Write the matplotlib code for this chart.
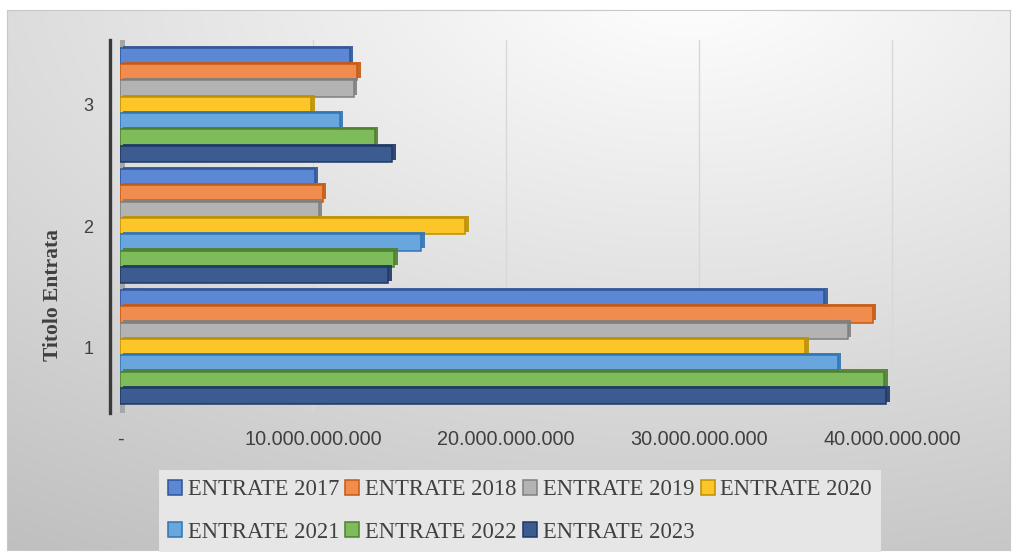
import numpy as np
import matplotlib
matplotlib.use("Agg")
import matplotlib.pyplot as plt
import matplotlib.patheffects as pe
from matplotlib.ticker import FuncFormatter

# ---- data ----
categories = [1, 2, 3]
series_names = ["ENTRATE 2017", "ENTRATE 2018", "ENTRATE 2019", "ENTRATE 2020",
                "ENTRATE 2021", "ENTRATE 2022", "ENTRATE 2023"]
entrate_2017 = [36.5e9, 10.1e9, 11.9e9]
entrate_2018 = [39.0e9, 10.5e9, 12.3e9]
entrate_2019 = [37.7e9, 10.3e9, 12.1e9]
entrate_2020 = [35.5e9, 17.9e9, 9.9e9]
entrate_2021 = [37.2e9, 15.6e9, 11.4e9]
entrate_2022 = [39.6e9, 14.2e9, 13.2e9]
entrate_2023 = [39.7e9, 13.9e9, 14.1e9]
series_values = [entrate_2017, entrate_2018, entrate_2019, entrate_2020,
                 entrate_2021, entrate_2022, entrate_2023]
x_ticks = [0, 10e9, 20e9, 30e9, 40e9]

fills = ["#5B87D4", "#F08D4E", "#B3B3B3", "#FDC628", "#6AA6DE", "#7EBB5B", "#3B5B91"]
edges = ["#2F5597", "#C55A11", "#7F7F7F", "#BF9000", "#2E75B6", "#4E7F2F", "#1F3864"]

W, H = 1016, 555
fig = plt.figure(figsize=(W / 100, H / 100), dpi=100, facecolor="white")

# background with gradient
bg = fig.add_axes([7 / W, 1 - 550 / H, (1010 - 7) / W, (550 - 10) / H])
gx = np.linspace(0, 1, 400)
gy = np.linspace(0, 1, 220)
X, Y = np.meshgrid(gx, gy)
d = np.sqrt((X - 0.68) ** 2 + (Y - 1.05) ** 2)
L = np.clip(1.0 - 0.2 * d, 0, 1)
img = np.dstack([L, L, L])
bg.imshow(img, origin="lower", aspect="auto", extent=[0, 1, 0, 1], interpolation="bilinear")
bg.set_xticks([])
bg.set_yticks([])
for s in bg.spines.values():
    s.set_color("#c8c8c8")
    s.set_linewidth(0.8)
bg.set_zorder(0)

# main axes
left_px, right_px, top_px, bot_px = 120, 988.5, 40, 413
ax = fig.add_axes([left_px / W, 1 - bot_px / H, (right_px - left_px) / W, (bot_px - top_px) / H])
ax.set_zorder(1)
ax.patch.set_alpha(0)

h = 0.135
cats = np.array(categories, dtype=float)
for i, (name, vals) in enumerate(zip(series_names, series_values)):
    bars = ax.barh(cats + (3 - i) * h, vals, height=h, color=fills[i], edgecolor=edges[i],
                   linewidth=1.1, label=name, zorder=3)
    for b in bars:
        b.set_path_effects([pe.SimplePatchShadow(offset=(2.5, 1.5), shadow_rgbFace=edges[i],
                                                 alpha=0.9), pe.Normal()])

ax.set_xlim(0, 45e9)
ax.set_ylim(0.455, 3.537)
ax.set_xticks(x_ticks)
ax.set_yticks(categories)
ax.xaxis.set_major_formatter(FuncFormatter(
    lambda v, p: "-" if v == 0 else f"{v:,.0f}".replace(",", ".")))

ax.grid(axis="x", color="#d8d8d8", linewidth=1.0, zorder=0)
ax.axvline(0, color="#a6a6a6", linewidth=7.2, zorder=2)

for s in ["top", "right", "bottom"]:
    ax.spines[s].set_visible(False)
ax.spines["left"].set_position(("outward", 7))
ax.spines["left"].set_color("#3a3a3a")
ax.spines["left"].set_linewidth(2.4)
ax.spines["left"].set_zorder(4)

ax.tick_params(axis="x", length=0, pad=12, labelsize=14.3, labelcolor="#404040")
ax.tick_params(axis="y", length=0, pad=12, labelsize=13, labelcolor="#404040")
for t in ax.get_xticklabels() + ax.get_yticklabels():
    t.set_fontfamily("Liberation Sans")

fig.text(53 / W, 1 - 295 / H, "Titolo Entrata", rotation=90, ha="center", va="center",
         fontsize=15.5, fontweight="bold", family="Liberation Serif", color="#404040")

handles, labels = ax.get_legend_handles_labels()
order = [0, 4, 1, 5, 2, 6, 3]
leg = fig.legend([handles[k] for k in order], [labels[k] for k in order],
                 ncol=4, loc="center", bbox_to_anchor=(520 / W, 1 - 511 / H),
                 prop={"family": "Liberation Serif", "size": 16.3},
                 handlelength=0.62, handleheight=0.62, handletextpad=0.25,
                 columnspacing=0.28, labelspacing=0.95, borderpad=0.4,
                 frameon=True, fancybox=False, facecolor="#e6e6e6", edgecolor="none",
                 framealpha=1.0)
for hd in leg.legend_handles:
    hd.set_path_effects([])
for t in leg.get_texts():
    t.set_color("#404040")

fig.savefig("out.png", dpi=100)
